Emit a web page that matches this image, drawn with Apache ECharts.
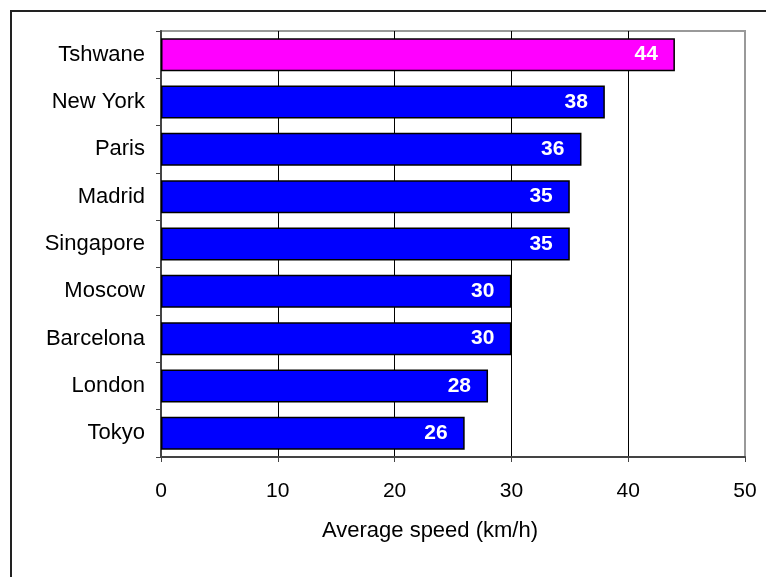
<!DOCTYPE html>
<html>
<head>
<meta charset="utf-8">
<script src="https://cdn.jsdelivr.net/npm/echarts@6/dist/echarts.min.js"></script>
<style>
  html, body { margin: 0; padding: 0; background: #fff; }
  #chart { width: 766px; height: 577px; }
</style>
</head>
<body>
<div id="chart"></div>
<script>
// Cities, bottom to top on the category axis
const cities = ['Tokyo', 'London', 'Barcelona', 'Moscow', 'Singapore', 'Madrid', 'Paris', 'New York', 'Tshwane'];
// Average speed in km/h
const speeds = [26, 28, 30, 30, 35, 35, 36, 38, 44];
const highlightCity = 'Tshwane';
const xTicks = { min: 0, max: 50, interval: 10 };

const chart = echarts.init(document.getElementById('chart'), null, { renderer: 'canvas' });
const font = 'Liberation Sans, Arial, sans-serif';

chart.setOption({
  animation: false,
  textStyle: { fontFamily: font },
  graphic: [{
    type: 'rect',
    shape: { x: 11, y: 11, width: 800, height: 600 },
    style: { fill: 'none', stroke: '#222', lineWidth: 2 },
    silent: true
  }],
  grid: {
    left: 161, right: 21, top: 31, bottom: 120,
    show: true, borderColor: '#999', borderWidth: 2, backgroundColor: '#fff'
  },
  xAxis: {
    type: 'value',
    min: xTicks.min, max: xTicks.max, interval: xTicks.interval,
    name: 'Average speed (km/h)',
    nameLocation: 'middle',
    nameGap: 63,
    nameTextStyle: { fontSize: 22, color: '#000', fontFamily: font, padding: [0, 46, 0, 0] },
    axisLine: { show: true, lineStyle: { color: '#444', width: 2 } },
    axisTick: { show: true, length: 5, lineStyle: { color: '#444', width: 1 } },
    axisLabel: { fontSize: 21, color: '#000', margin: 24, fontFamily: font },
    splitLine: { show: true, showMinLine: false, showMaxLine: false, lineStyle: { color: '#000', width: 1 } }
  },
  yAxis: {
    type: 'category',
    data: cities,
    axisLine: { show: true, lineStyle: { color: '#444', width: 2 } },
    axisTick: { show: true, length: 5, lineStyle: { color: '#444', width: 1 } },
    axisLabel: { fontSize: 22, color: '#000', margin: 16, fontFamily: font, padding: [0, 0, 4, 0] },
    splitLine: { show: false }
  },
  series: [{
    type: 'bar',
    data: speeds.map((v, i) => ({
      value: v,
      itemStyle: { color: cities[i] === highlightCity ? '#ff00ff' : '#0000ff' }
    })),
    barWidth: 33,
    itemStyle: { borderColor: '#000', borderWidth: 1.5 },
    label: {
      show: true,
      position: 'insideRight',
      distance: 17,
      color: '#fff',
      fontWeight: 'bold',
      fontSize: 21,
      fontFamily: font
    }
  }]
});
</script>
</body>
</html>
